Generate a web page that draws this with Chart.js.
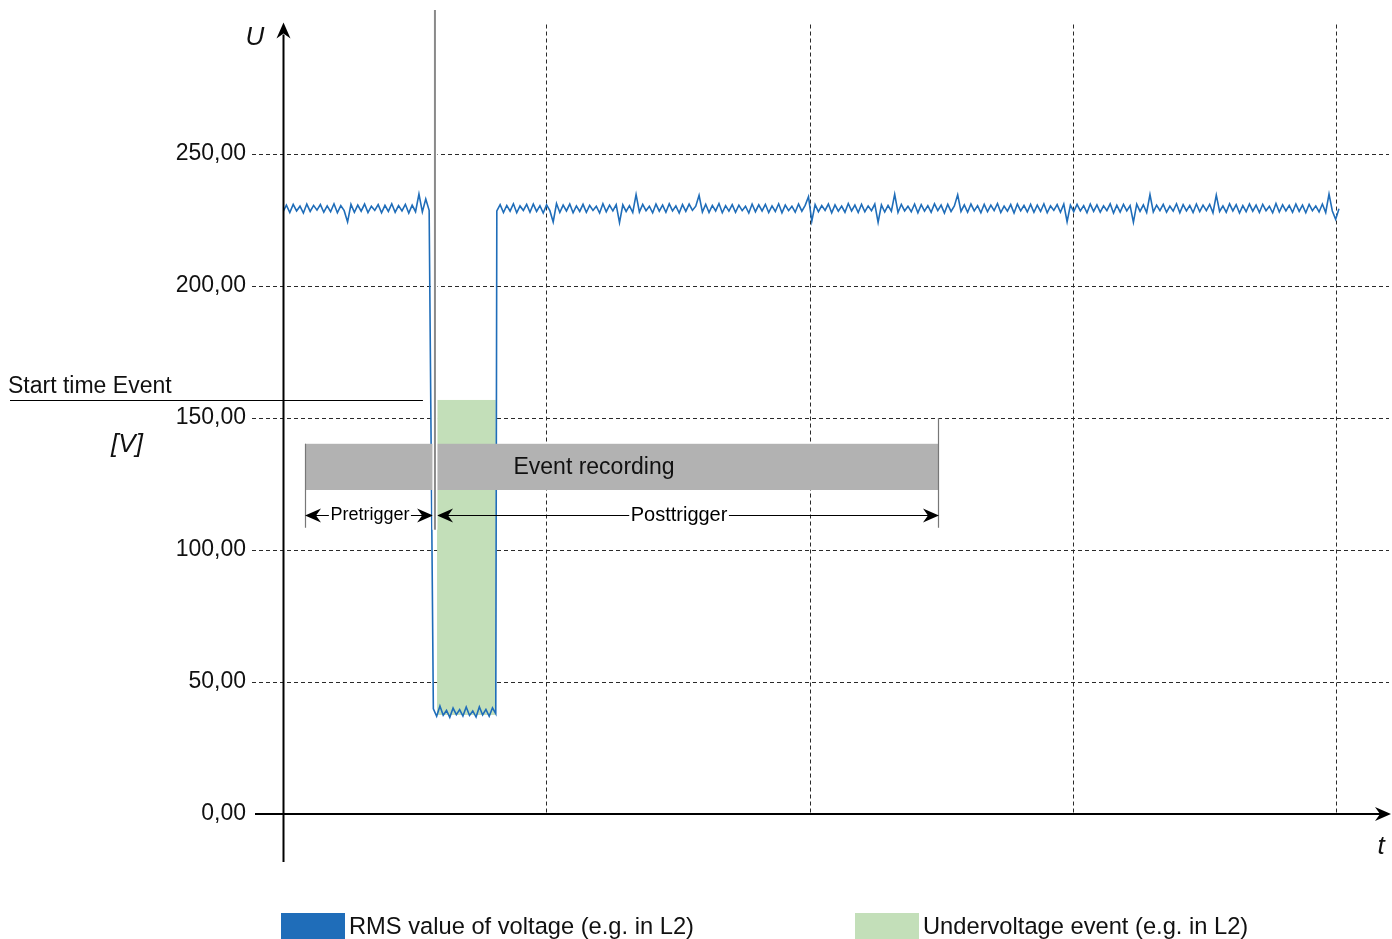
<!DOCTYPE html>
<html><head><meta charset="utf-8">
<script src="https://cdn.jsdelivr.net/npm/chart.js@4.4.1/dist/chart.umd.min.js"></script>
<style>html,body{margin:0;padding:0;background:#fff;}</style>
</head><body>
<canvas id="c" width="1392" height="939"></canvas>
<script>
// ---- data ----
const yTicks = [0, 50, 100, 150, 200, 250];
const xGridLines = [1, 2, 3, 4];
const gridTop = 299;

// RMS voltage, segment 1 (before the dip)
const seg1Range = [0, 0.555];
const seg1Values = [228.0,230.6,227.8,230.9,228.4,230.2,227.6,231.0,228.2,230.5,
  228.7,230.8,227.9,230.3,228.1,231.1,227.7,230.4,228.5,224.2,
  230.9,227.9,230.6,228.3,231.0,227.8,230.2,228.6,230.8,227.7,
  230.5,228.2,231.1,227.9,230.4,228.4,230.9,227.6,230.6,228.1,
  234.8,228.0,232.9,228.6];
// segment 2 (during undervoltage)
const seg2Range = [0.571, 0.808];
const seg2Values = [39.8,37.0,40.9,37.4,39.2,36.6,40.1,37.6,39.5,37.1,
  40.5,37.3,39.0,36.7,40.6,37.5,39.6,37.0,40.2,38.0];
// segment 3 (after recovery)
const seg3Range = [0.812, 4.01];
const seg3Values = [
  228.4,230.8,227.8,230.5,228.3,231.1,227.7,230.3,228.6,230.9,
  227.9,231.0,228.2,230.4,227.6,230.7,228.5,224.2,231.2,227.8,
  230.6,228.4,231.0,227.7,230.3,228.2,230.9,227.9,230.5,228.6,
  230.2,227.6,231.1,228.1,230.6,228.4,230.8,224.0,230.7,228.2,
  230.4,227.8,234.6,228.0,230.9,228.5,230.2,227.7,231.0,228.3,
  230.6,227.9,231.1,228.4,230.3,227.6,230.8,228.2,231.0,228.6,
  230.2,234.3,228.0,230.9,227.8,230.5,228.4,231.2,227.7,230.4,
  228.3,230.8,227.9,230.6,228.5,230.2,227.6,231.0,228.1,230.7,
  228.4,230.9,227.8,230.3,228.2,231.1,227.7,230.6,228.5,230.2,
  227.9,231.0,228.3,230.5,233.8,224.5,230.8,228.1,230.4,228.6,
  231.0,227.7,230.7,228.3,230.2,227.9,231.2,228.4,230.6,227.8,
  230.9,228.1,230.3,228.5,231.0,224.1,230.7,228.0,230.5,228.3,
  234.7,227.8,230.9,228.4,230.2,228.1,231.0,227.7,230.8,228.3,
  230.4,227.9,231.1,228.5,230.6,227.6,230.9,228.2,230.3,234.5,
  228.2,230.7,227.9,231.0,228.4,230.4,227.7,230.9,228.1,230.6,
  228.5,231.2,227.8,230.2,228.3,230.8,227.6,231.0,228.4,230.5,
  228.0,230.9,227.9,230.6,228.2,231.1,227.7,230.3,228.6,230.8,
  227.9,231.0,224.3,230.6,228.1,230.9,228.4,230.4,227.7,231.0,
  228.2,230.7,227.9,230.3,228.5,231.1,227.6,230.6,228.0,230.9,
  228.4,230.4,224.1,231.0,228.2,230.7,227.8,234.6,228.0,230.6,
  228.5,230.9,227.9,230.2,228.3,231.1,227.7,230.8,228.4,230.5,
  227.8,231.0,228.1,230.6,228.5,230.9,227.7,234.4,228.2,230.3,
  227.9,231.1,228.4,230.8,227.6,230.4,228.1,231.0,228.3,230.6,
  227.8,230.9,228.5,230.2,227.7,231.2,228.0,230.7,228.4,230.5,
  227.9,231.0,228.2,230.6,227.7,230.9,228.5,230.3,228.0,231.0,
  227.8,234.8,228.4,225.2,229.2];

// undervoltage event area [xStart, xEnd, yLow, yHigh]
const undervoltageBox = [0.585, 0.808, 37.5, 156.8];
// event recording bar [xStart, xEnd, yLow, yHigh]
const recordingBox = [0.0836, 2.491, 122.7, 140.2];
const recordingLabel = 'Event recording';
const recordingLabelX = 1.181;
const triggerX = 0.577;          // start time of event
const startEventY = 156.8;
const arrowY = 113.3;
const pretrigger = [0.0836, 0.570, 'Pretrigger', 0.33];
const posttrigger = [0.585, 2.491, 'Posttrigger', 1.504];
const legendLabels = ['RMS value of voltage (e.g. in L2)', 'Undervoltage event (e.g. in L2)'];
const seriesColor = '#1f6db9';
const eventColor = '#c3dfb9';

// ---- build ----
function segPoints(range, vals) {
  const n = vals.length, st = (range[1] - range[0]) / (n - 1);
  return vals.map((v, i) => ({x: range[0] + i * st, y: v}));
}
const rmsData = [].concat(segPoints(seg1Range, seg1Values), segPoints(seg2Range, seg2Values), segPoints(seg3Range, seg3Values));

const FONT = '"Liberation Sans", Arial, Helvetica, sans-serif';

function arrowHead(ctx, tx, ty, dx, dy) {
  const L = 16, W = 7, N = 11;
  const px = -dy, py = dx;
  ctx.beginPath();
  ctx.moveTo(tx, ty);
  ctx.lineTo(tx - dx * L + px * W, ty - dy * L + py * W);
  ctx.lineTo(tx - dx * N, ty - dy * N);
  ctx.lineTo(tx - dx * L - px * W, ty - dy * L - py * W);
  ctx.closePath();
  ctx.fill();
}

const decor = {
  id: 'decor',
  beforeDatasetsDraw(chart) {
    const ctx = chart.ctx, xs = chart.scales.x, ys = chart.scales.y, ca = chart.chartArea;
    const X = v => xs.getPixelForValue(v), Y = v => ys.getPixelForValue(v);
    ctx.save();
    ctx.strokeStyle = '#2a2a2a'; ctx.lineWidth = 1; ctx.setLineDash([4, 3]);
    ctx.beginPath();
    yTicks.forEach(v => { if (v > 0) { const y = Math.round(Y(v)) + 0.5; ctx.moveTo(252, y); ctx.lineTo(ca.right, y); } });
    xGridLines.forEach(v => { const x = Math.round(X(v)) + 0.5; ctx.moveTo(x, Y(gridTop)); ctx.lineTo(x, Y(0)); });
    ctx.stroke();
    ctx.setLineDash([]);
    ctx.fillStyle = eventColor;
    const b = undervoltageBox;
    ctx.fillRect(X(b[0]), Y(b[3]), X(b[1]) - X(b[0]), Y(b[2]) - Y(b[3]));
    ctx.restore();
  },
  afterDatasetsDraw(chart) {
    const ctx = chart.ctx, xs = chart.scales.x, ys = chart.scales.y, ca = chart.chartArea;
    const X = v => xs.getPixelForValue(v), Y = v => ys.getPixelForValue(v);
    ctx.save();
    // recording bar
    const r = recordingBox;
    ctx.fillStyle = '#b2b2b2';
    ctx.fillRect(X(r[0]), Y(r[3]), X(r[1]) - X(r[0]), Y(r[2]) - Y(r[3]));
    ctx.fillStyle = '#111';
    ctx.font = '23px ' + FONT; ctx.textAlign = 'center'; ctx.textBaseline = 'middle';
    ctx.fillText(recordingLabel, X(recordingLabelX), (Y(r[2]) + Y(r[3])) / 2 + 1);
    // end marker lines
    ctx.strokeStyle = '#777'; ctx.lineWidth = 1.2;
    ctx.beginPath();
    const yb = Y(arrowY) + 13;
    ctx.moveTo(Math.round(X(r[0])) + 0.5, Y(r[3])); ctx.lineTo(Math.round(X(r[0])) + 0.5, yb);
    ctx.moveTo(Math.round(X(r[1])) - 0.5, Y(150)); ctx.lineTo(Math.round(X(r[1])) - 0.5, yb);
    ctx.stroke();
    // trigger arrows
    ctx.strokeStyle = '#000'; ctx.fillStyle = '#000'; ctx.lineWidth = 1.2;
    [[pretrigger, 18], [posttrigger, 20]].forEach(([a, fs]) => {
      const y = Math.round(Y(arrowY)) + 0.5, x0 = X(a[0]), x1 = X(a[1]);
      ctx.fillStyle = '#000';
      ctx.beginPath(); ctx.moveTo(x0 + 8, y); ctx.lineTo(x1 - 8, y); ctx.stroke();
      arrowHead(ctx, x0, y, -1, 0); arrowHead(ctx, x1, y, 1, 0);
      ctx.font = fs + 'px ' + FONT;
      const w = ctx.measureText(a[2]).width, cx = X(a[3]);
      ctx.fillStyle = '#fff'; ctx.fillRect(cx - w / 2 - 1.5, y - 10, w + 3, 20);
      ctx.fillStyle = '#000'; ctx.textAlign = 'center'; ctx.textBaseline = 'middle';
      ctx.fillText(a[2], cx, y);
    });
    // start time event line + label
    const ty = Math.round(Y(startEventY)) + 0.5;
    ctx.strokeStyle = '#000'; ctx.lineWidth = 1;
    ctx.beginPath(); ctx.moveTo(10, ty); ctx.lineTo(X(triggerX) - 12, ty); ctx.stroke();
    ctx.font = '23px ' + FONT; ctx.textAlign = 'left'; ctx.textBaseline = 'alphabetic';
    ctx.fillStyle = '#111';
    ctx.fillText('Start time Event', 8, ty - 8);
    // trigger marker
    const tx = X(triggerX);
    ctx.strokeStyle = '#fff'; ctx.lineWidth = 5;
    ctx.beginPath(); ctx.moveTo(tx, ca.top); ctx.lineTo(tx, Y(arrowY) + 15); ctx.stroke();
    ctx.strokeStyle = '#8a8a8a'; ctx.lineWidth = 2;
    ctx.beginPath(); ctx.moveTo(tx, ca.top); ctx.lineTo(tx, Y(arrowY) + 15); ctx.stroke();
    // axes
    const ax = Math.round(X(0)) + 0.5, ay = Math.round(Y(0));
    ctx.strokeStyle = '#000'; ctx.fillStyle = '#000'; ctx.lineWidth = 2;
    ctx.beginPath();
    ctx.moveTo(ax, ca.bottom); ctx.lineTo(ax, Y(gridTop) + 10);
    ctx.moveTo(255, ay); ctx.lineTo(ca.right - 8, ay);
    ctx.stroke();
    arrowHead(ctx, ax, Y(gridTop) - 2, 0, -1);
    arrowHead(ctx, ca.right + 2, ay, 1, 0);
    // axis labels
    ctx.font = 'italic 26px ' + FONT; ctx.textAlign = 'center'; ctx.textBaseline = 'middle';
    ctx.fillStyle = '#111';
    ctx.fillText('U', 255, 38);
    ctx.fillText('t', 1381, 847);
    ctx.fillText('[V]', 127, 445);
    // legend
    ctx.font = '23.7px ' + FONT; ctx.textAlign = 'left'; ctx.textBaseline = 'middle';
    ctx.fillStyle = seriesColor; ctx.fillRect(281, 913, 64, 26);
    ctx.fillStyle = '#111'; ctx.fillText(legendLabels[0], 349, 927);
    ctx.fillStyle = eventColor; ctx.fillRect(855, 913, 64, 26);
    ctx.fillStyle = '#111'; ctx.fillText(legendLabels[1], 923, 927);
    ctx.restore();
  }
};

new Chart(document.getElementById('c'), {
  type: 'line',
  data: {
    datasets: [{
      label: legendLabels[0],
      data: rmsData,
      borderColor: seriesColor,
      borderWidth: 1.6,
      pointRadius: 0,
      tension: 0,
      fill: false
    }]
  },
  options: {
    responsive: false,
    animation: false,
    devicePixelRatio: 1,
    layout: {padding: {left: 0, right: 3, top: 10, bottom: 77}},
    plugins: {legend: {display: false}, tooltip: {enabled: false}},
    scales: {
      x: {type: 'linear', min: 0, max: 4.2, display: false},
      y: {
        min: -18.2, max: 304.5,
        afterFit: s => { s.width = 283; s.paddingTop = 0; s.paddingBottom = 0; },
        afterBuildTicks: s => { s.ticks = yTicks.map(v => ({value: v})); },
        grid: {display: false, drawTicks: true, tickLength: 37},
        border: {display: false},
        ticks: {
          padding: 0,
          color: '#111',
          font: {family: FONT, size: 23},
          callback: v => v.toFixed(2).replace('.', ',')
        }
      }
    }
  },
  plugins: [decor]
});
</script>
</body></html>
